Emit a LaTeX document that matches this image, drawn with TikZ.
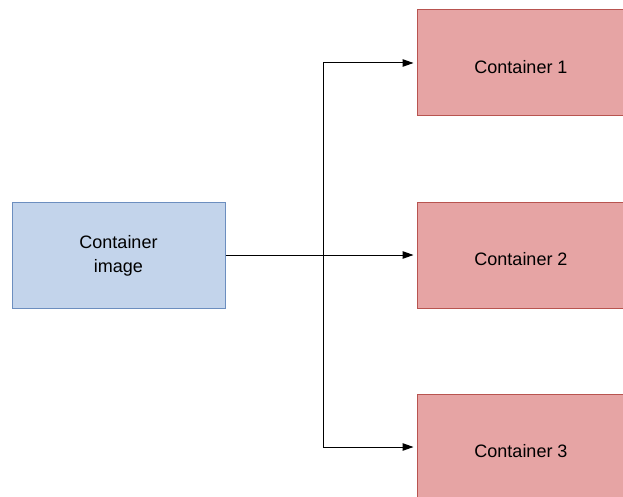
\documentclass[tikz,border=0pt]{standalone}
\usepackage{fontspec}
\setmainfont{Liberation Sans}
\usetikzlibrary{arrows.meta}
\definecolor{bfill}{HTML}{C3D4EB}
\definecolor{bdraw}{HTML}{6C8EBF}
\definecolor{rfill}{HTML}{E6A4A4}
\definecolor{rdraw}{HTML}{B85450}
\begin{document}
\begin{tikzpicture}[x=1pt,y=-1pt,
  imgbox/.style={draw=bdraw,fill=bfill,line width=1pt,minimum width=213pt,minimum height=106pt,inner sep=0pt,align=center,font=\fontsize{18}{24}\selectfont},
  contbox/.style={draw=rdraw,fill=rfill,line width=1pt,minimum width=213pt,minimum height=106pt,inner sep=0pt,font=\fontsize{18}{24}\selectfont},
  conn/.style={line width=1pt,-{Triangle[length=11pt,width=7.5pt]},shorten >=3pt}]
\useasboundingbox (0,0) rectangle (623,497);
\clip (0,0) rectangle (623,497);
\node[imgbox] (img) at (118.5,255) {};
\node[align=center,font=\fontsize{18}{24}\selectfont] (imgtext) at (118.5,256) {Container\\image};
\node[contbox] (c1) at (523.5,63) {};
\node[contbox] (c2) at (523.5,255) {};
\node[contbox] (c3) at (523.5,447) {};
\node[font=\fontsize{18}{24}\selectfont] (t1) at (521,67) {Container 1};
\node[font=\fontsize{18}{24}\selectfont] (t2) at (521,259) {Container 2};
\node[font=\fontsize{18}{24}\selectfont] (t3) at (521,451) {Container 3};
\coordinate (br) at (323.5,255);
\draw[conn] (img.east) -- (c2.west);
\draw[conn] (br) |- (c1.west);
\draw[conn] (br) |- (c3.west);
\end{tikzpicture}
\end{document}
